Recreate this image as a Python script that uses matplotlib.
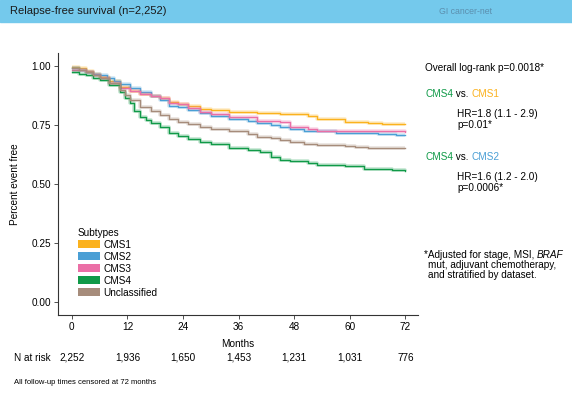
import matplotlib.pyplot as plt
from matplotlib.patches import Patch, Rectangle

plt.rcParams['font.family'] = ['Liberation Sans', 'DejaVu Sans']

# Kaplan-Meier curves, step-post
cms1_t = [0, 1.5, 3, 4.5, 6, 8, 10.4, 12.5, 14.7, 17, 19, 21, 23, 25, 27.6, 30, 34, 40, 45, 47, 51, 53, 59, 64, 67, 72]
cms1_s = [0.995, 0.99, 0.98, 0.968, 0.955, 0.935, 0.91, 0.895, 0.88, 0.872, 0.865, 0.849, 0.84, 0.83, 0.816, 0.812, 0.806, 0.80, 0.797, 0.797, 0.788, 0.774, 0.763, 0.757, 0.754, 0.754]

cms2_t = [0, 1.5, 3, 4.5, 6, 7.5, 9, 10.4, 12.5, 14.7, 17, 19, 21, 23, 25, 27.6, 30, 34, 38, 40, 43, 45, 47, 50, 57, 66, 70, 72]
cms2_s = [0.99, 0.985, 0.975, 0.968, 0.96, 0.948, 0.935, 0.922, 0.905, 0.889, 0.872, 0.856, 0.831, 0.825, 0.812, 0.80, 0.79, 0.774, 0.765, 0.757, 0.75, 0.743, 0.733, 0.723, 0.717, 0.712, 0.709, 0.709]

cms3_t = [0, 1.5, 3, 4.5, 6, 8, 10.4, 12.5, 14.7, 17, 19, 21, 23, 25, 27.6, 30, 34, 40, 43, 45, 47, 51, 53, 72]
cms3_s = [0.985, 0.982, 0.975, 0.962, 0.95, 0.93, 0.908, 0.894, 0.88, 0.872, 0.863, 0.845, 0.838, 0.822, 0.806, 0.795, 0.783, 0.768, 0.765, 0.762, 0.742, 0.732, 0.723, 0.72]

cms4_t = [0, 1.5, 3, 4.5, 6, 8, 10.4, 11.5, 12.5, 13.5, 14.7, 16, 17, 19, 21, 23, 25, 27.6, 30, 34, 38, 40.6, 43, 45, 47, 51, 53, 59, 63, 69, 72]
cms4_s = [0.973, 0.968, 0.96, 0.95, 0.941, 0.92, 0.891, 0.865, 0.842, 0.81, 0.785, 0.77, 0.76, 0.743, 0.715, 0.705, 0.69, 0.679, 0.668, 0.651, 0.645, 0.637, 0.615, 0.602, 0.597, 0.588, 0.58, 0.576, 0.562, 0.559, 0.554]

uncl_t = [0, 1.5, 3, 4.5, 6, 8, 10.4, 11.5, 12.5, 14.7, 17, 19, 21, 23, 25, 27.6, 30, 34, 38, 40, 43, 45, 47, 50, 53, 59, 61, 64, 72]
uncl_s = [0.99, 0.985, 0.975, 0.962, 0.948, 0.93, 0.898, 0.875, 0.856, 0.828, 0.81, 0.792, 0.774, 0.764, 0.755, 0.743, 0.735, 0.726, 0.712, 0.701, 0.693, 0.686, 0.677, 0.669, 0.665, 0.661, 0.655, 0.651, 0.651]

subtypes = ['CMS1', 'CMS2', 'CMS3', 'CMS4', 'Unclassified']
colors = ['#FBB21E', '#4A9FD5', '#EB6FA6', '#109A48', '#A68C7B']
curves = [(cms1_t, cms1_s), (cms2_t, cms2_s), (cms3_t, cms3_s), (cms4_t, cms4_s), (uncl_t, uncl_s)]

months = [0, 12, 24, 36, 48, 60, 72]
n_at_risk = ['2,252', '1,936', '1,650', '1,453', '1,231', '1,031', '776']

W, H = 572, 396
FS = 7.2
fig = plt.figure(figsize=(W / 100, H / 100), dpi=100)

def fx(x):
    return x / W

def fy(y):
    return 1 - y / H

def label(x, y, s, **kw):
    # y is the visual centre of the text line in pixels, place on baseline
    kw.setdefault('fontsize', FS)
    return fig.text(fx(x), fy(y + 3.6), s, va='baseline', **kw)

# header bar
fig.patches.append(Rectangle((0, fy(22)), 1, 22 / H, transform=fig.transFigure,
                             color='#74C9EC', zorder=0))
fig.text(fx(10), fy(14.5), 'Relapse-free survival (n=2,252)', fontsize=8,
         va='baseline', ha='left', color='#1a1a1a')
fig.text(fx(492), fy(14), 'GI cancer-net', fontsize=6.3, va='baseline', ha='right',
         color='#5b8fae')

ax = fig.add_axes([fx(58), fy(315), fx(418) - fx(58), fy(53) - fy(315)])
for (t, s), c in zip(curves, colors):
    ax.step(t, s, where='post', color=c, lw=2.6, alpha=0.25, solid_capstyle='butt')
    ax.step(t, s, where='post', color=c, lw=1.0)

ax.set_xlim(-3.0, 74.7)
ax.set_ylim(-0.055, 1.055)
ax.set_xticks(months)
ax.set_yticks([0, 0.25, 0.5, 0.75, 1.0])
ax.set_yticklabels(['0.00', '0.25', '0.50', '0.75', '1.00'])
ax.tick_params(labelsize=FS, length=3, width=0.6, color='#333333', pad=2)
for sp in ['top', 'right']:
    ax.spines[sp].set_visible(False)
for sp in ['left', 'bottom']:
    ax.spines[sp].set_linewidth(0.8)
    ax.spines[sp].set_color('#333333')
ax.set_ylabel('Percent event free', fontsize=FS, labelpad=8)
ax.set_xlabel('Months', fontsize=FS, labelpad=5)

handles = [Patch(facecolor=c, edgecolor='none') for c in colors]
leg = ax.legend(handles, subtypes, title='Subtypes', loc='lower left',
                bbox_to_anchor=(0.035, 0.04), frameon=False, fontsize=FS,
                title_fontsize=FS, handlelength=2.2, handleheight=0.9,
                labelspacing=0.2, handletextpad=0.4, borderpad=0.2)
leg._legend_box.align = 'left'

# number at risk
label(14, 357, 'N at risk')
for m, n in zip(months, n_at_risk):
    xd = ax.transData.transform((m, 0))[0]
    fig.text(xd / fig.dpi / fig.get_figwidth(), fy(360.6), n, fontsize=FS,
             va='baseline', ha='center')
fig.text(fx(14), fy(383.5), 'All follow-up times censored at 72 months',
         fontsize=5.5, va='baseline', ha='left')

# annotations on the right
label(425, 67, 'Overall log-rank p=0.0018*')

def right_of(t):
    fig.canvas.draw()
    return t.get_window_extent().x1 / (fig.dpi * fig.get_figwidth())

def comparison(y, other, other_color, hr, p):
    t1 = label(425, y, 'CMS4', color=colors[3])
    t2 = fig.text(right_of(t1), fy(y + 3.6), ' vs. ', fontsize=FS, va='baseline')
    fig.text(right_of(t2), fy(y + 3.6), other, fontsize=FS, va='baseline',
             color=other_color)
    label(457, y + 20, hr)
    label(457, y + 31, p)

comparison(93, 'CMS1', colors[0], 'HR=1.8 (1.1 - 2.9)', 'p=0.01*')
comparison(156, 'CMS2', colors[1], 'HR=1.6 (1.2 - 2.0)', 'p=0.0006*')

t = label(424, 254, '*Adjusted for stage, MSI, ')
fig.text(right_of(t), fy(254 + 3.6), 'BRAF', fontsize=FS, va='baseline', style='italic')
label(428, 264, 'mut, adjuvant chemotherapy,')
label(428, 274, 'and stratified by dataset.')

fig.savefig('out.png', dpi=100)
